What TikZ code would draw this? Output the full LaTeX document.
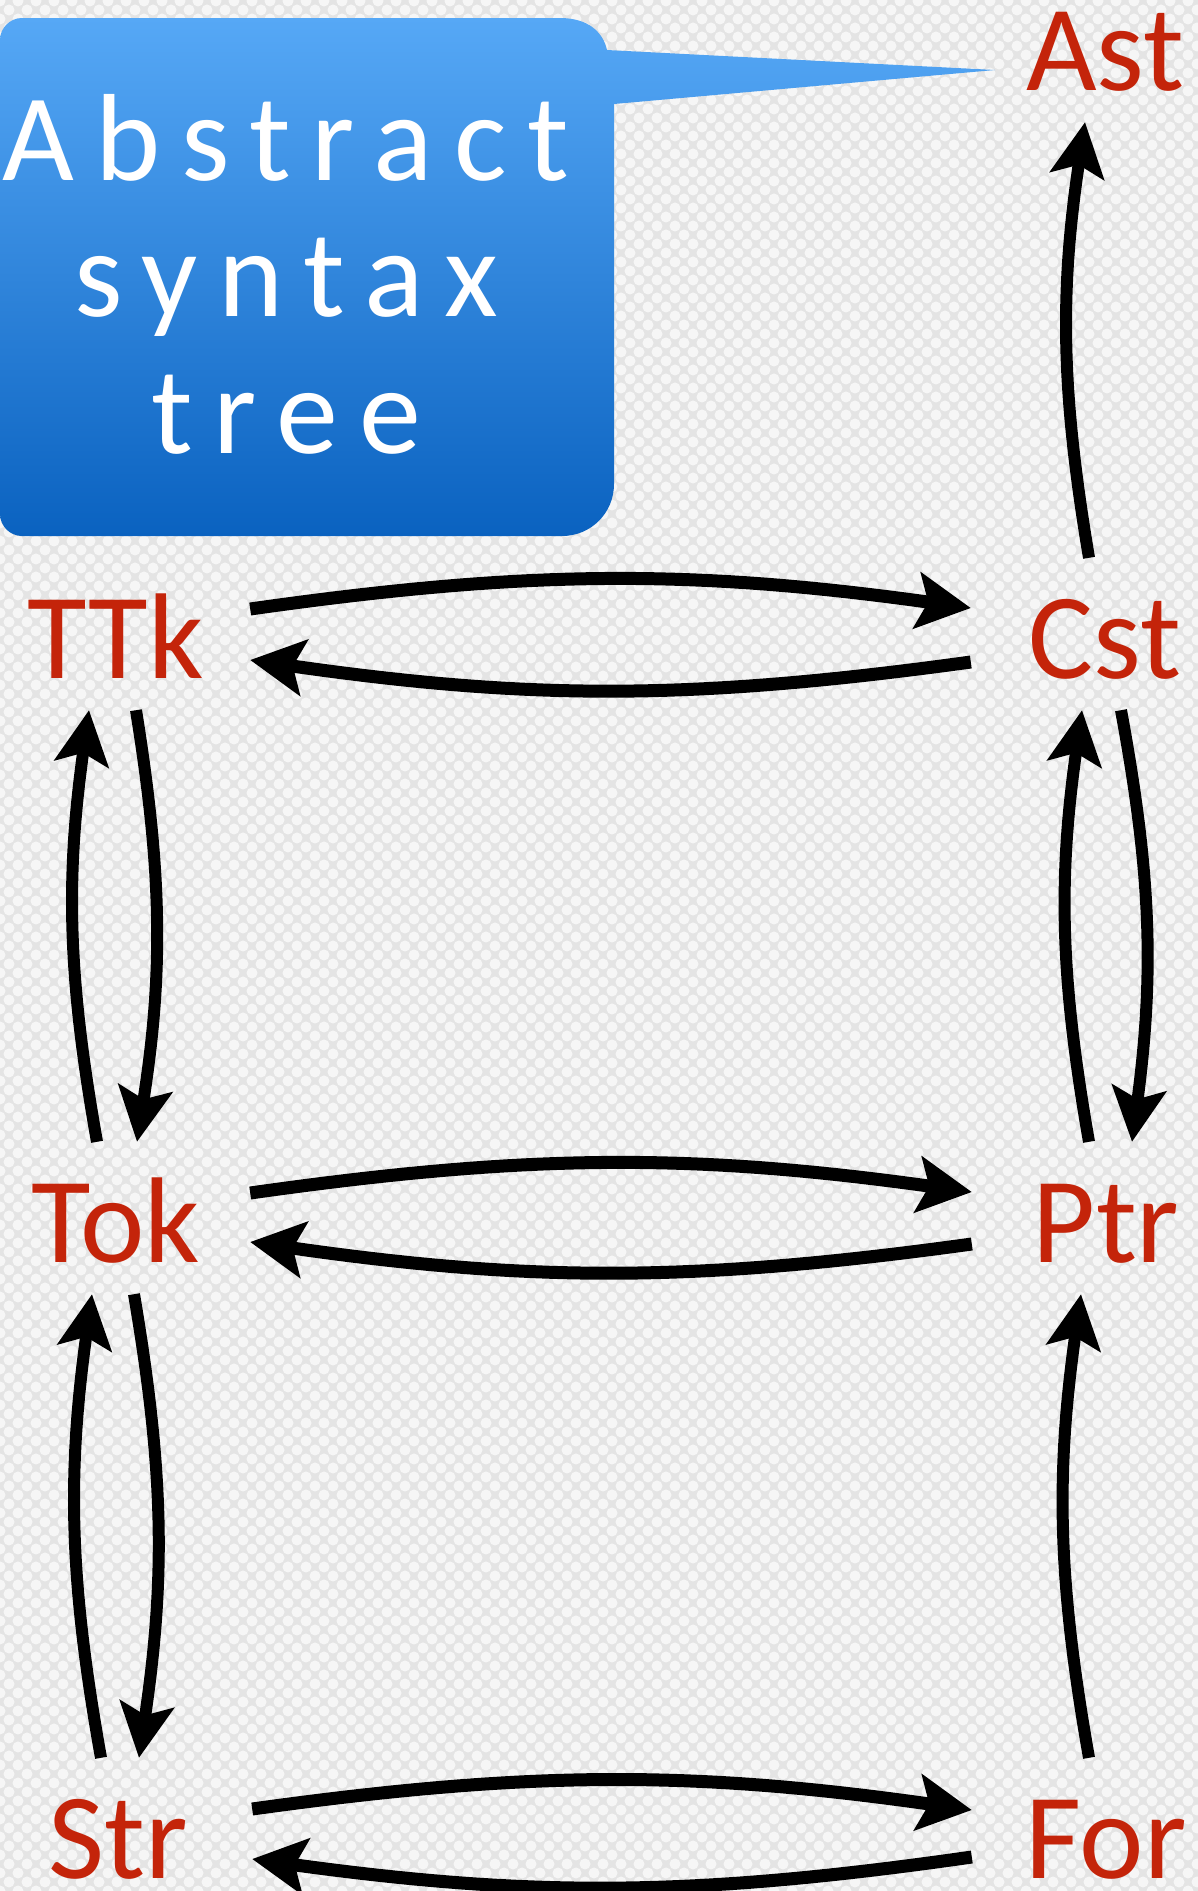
\documentclass[tikz,border=0pt]{standalone}
\usepackage{fontspec}
\setmainfont{Carlito}
\newfontfamily\spacedfont[LetterSpace=17]{Carlito}
\usetikzlibrary{arrows.meta,patterns.meta,calc}
\definecolor{lblred}{RGB}{196,36,10}
\definecolor{bgray}{RGB}{228,228,228}
\definecolor{calltop}{RGB}{86,168,246}
\definecolor{callbot}{RGB}{10,98,192}
\begin{document}
\begin{tikzpicture}[x=1pt,y=-1pt,
  lbl/.style={text=lblred, font=\fontsize{122}{122}\selectfont, text height=78pt, text depth=0pt, minimum width=268pt, inner xsep=0pt, inner ysep=0pt},
  harr/.style={line width=13pt, -{Stealth[length=54pt,width=56pt,inset=11pt]}, bend left=8},
  varr/.style={line width=12pt, -{Stealth[length=54pt,width=54pt,inset=11pt]}, bend left=9},
  dotsA/.style={pattern={Dots[distance=18pt,radius=5.5pt]}, pattern color=white},
  dotsB/.style={pattern={Dots[distance=18pt,radius=5.5pt,xshift=9pt,yshift=9pt]}, pattern color=white}]
\useasboundingbox (0,0) rectangle (1198,1891);
\fill[bgray] (0,0) rectangle (1198,1891);
\fill[dotsA, opacity=0.7] (0,0) rectangle (1198,1891);
\fill[dotsB, opacity=0.7] (0,0) rectangle (1198,1891);

% callout
\shade[top color=calltop, bottom color=callbot]
  (22,18) -- (560,18) .. controls (588,18) and (603,32) .. (607,50)
  -- (995,70) -- (614,104) -- (614,484)
  .. controls (614,513) and (591,536) .. (562,536)
  -- (22,536) .. controls (10,536) and (0,526) .. (0,514)
  -- (0,40) .. controls (0,28) and (10,18) .. (22,18) -- cycle;
\node[text=white, font=\spacedfont\fontsize{124}{136.5}\selectfont, align=center, anchor=base, inner sep=0pt] (callout) at (286,453) {Abstract\\syntax\\tree};

% labels (node box = cap-height area)
\node[lbl] (Ast) at (1105,51) {Ast};
\node[lbl] (TTk) at (116,639) {TTk};
\node[lbl] (Cst) at (1105,639) {Cst};
\node[lbl] (Tok) at (116,1223) {Tok};
\node[lbl] (Ptr) at (1106,1223) {Ptr};
\node[lbl] (Str) at (118,1839) {Str};
\node[lbl] (For) at (1106,1839) {For};

% horizontal arrows
\draw[harr] ([yshift=30pt]TTk.east) to ([yshift=31pt]Cst.west);
\draw[harr] ([yshift=-23pt]Cst.west) to ([yshift=-21pt]TTk.east);
\draw[harr] ([yshift=30pt]Tok.east) to ([yshift=31pt]Ptr.west);
\draw[harr] ([yshift=-21pt]Ptr.west) to ([yshift=-19pt]Tok.east);
\draw[harr] ([yshift=30pt]Str.east) to ([yshift=29pt]For.west);
\draw[harr] ([yshift=-18pt]For.west) to ([yshift=-20pt]Str.east);

% vertical arrows
\draw[varr] ([xshift=-19pt,yshift=42pt]Tok.north) to ([xshift=-27pt,yshift=-32pt]TTk.south);
\draw[varr] ([xshift=20pt,yshift=-32pt]TTk.south) to ([xshift=21pt,yshift=42pt]Tok.north);
\draw[varr] ([xshift=-17pt,yshift=42pt]Ptr.north) to ([xshift=-23pt,yshift=-32pt]Cst.south);
\draw[varr] ([xshift=16pt,yshift=-32pt]Cst.south) to ([xshift=26pt,yshift=42pt]Ptr.north);
\draw[varr] ([xshift=-16pt,yshift=42pt]Cst.north) to ([xshift=-20pt,yshift=-32pt]Ast.south);
\draw[varr] ([xshift=-17pt,yshift=42pt]Str.north) to ([xshift=-24pt,yshift=-32pt]Tok.south);
\draw[varr] ([xshift=18pt,yshift=-32pt]Tok.south) to ([xshift=21pt,yshift=42pt]Str.north);
\draw[varr] ([xshift=-17pt,yshift=42pt]For.north) to ([xshift=-25pt,yshift=-32pt]Ptr.south);
\end{tikzpicture}
\end{document}
